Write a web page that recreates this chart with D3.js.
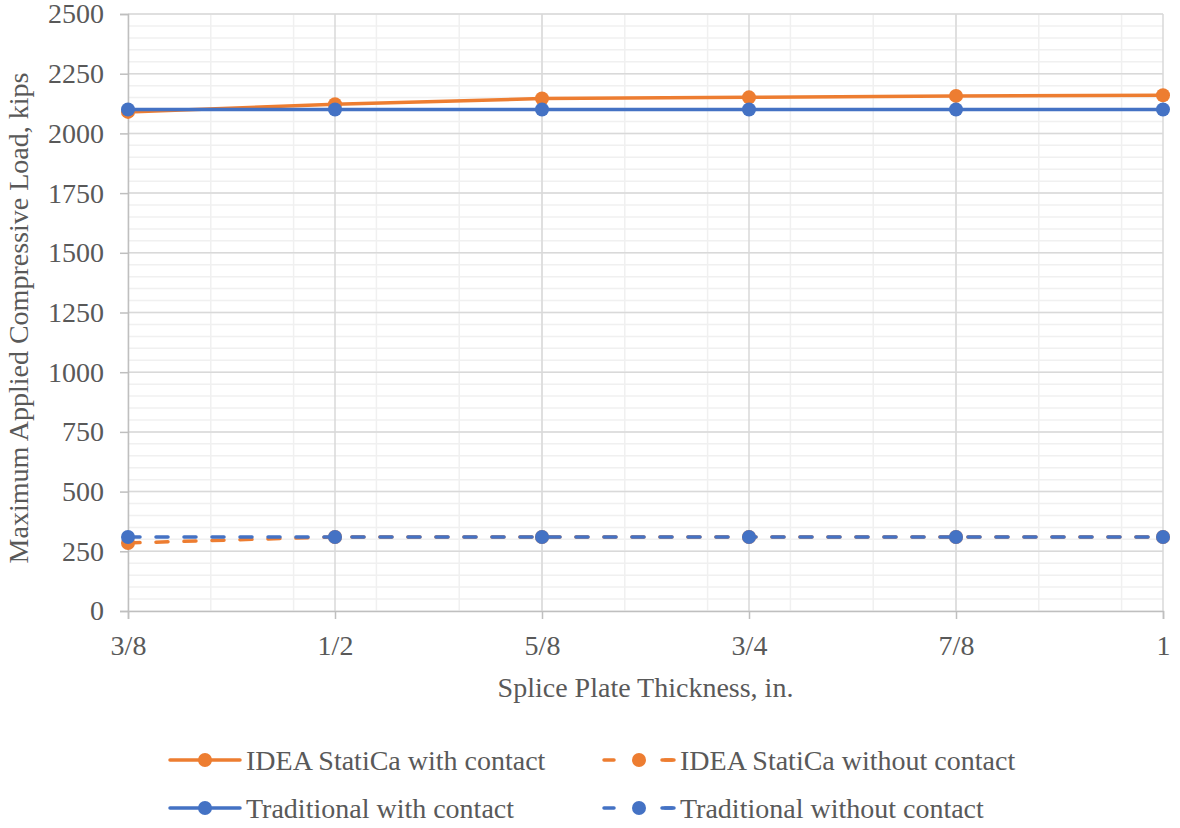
<!DOCTYPE html>
<html>
<head>
<meta charset="utf-8">
<script src="https://cdn.jsdelivr.net/npm/d3@7"></script>
<style>
  body { margin: 0; background: #fff; }
  svg { font-family: "Liberation Serif", "DejaVu Serif", serif; }
</style>
</head>
<body>
<svg width="1180" height="828"></svg>
<script>
const width = 1180;
const height = 828;
const margin = { top: 14, right: 17, bottom: 217, left: 128 };

// chart data
const thickness = [0.375, 0.5, 0.625, 0.75, 0.875, 1];
const thicknessLabels = ["3/8", "1/2", "5/8", "3/4", "7/8", "1"];
const ideaWithContact = [2090, 2122, 2146, 2151, 2157, 2160];
const ideaWithoutContact = [285, 310, 310, 310, 310, 310];
const tradWithContact = [2100, 2100, 2100, 2100, 2100, 2100];
const tradWithoutContact = [310, 310, 310, 310, 310, 310];
const yTicks = [0, 250, 500, 750, 1000, 1250, 1500, 1750, 2000, 2250, 2500];

const seriesNames = ["IDEA StatiCa with contact", "IDEA StatiCa without contact",
                     "Traditional with contact", "Traditional without contact"];
const seriesValues = [ideaWithContact, ideaWithoutContact, tradWithContact, tradWithoutContact];
const seriesColors = ["#ED7D31", "#ED7D31", "#4472C4", "#4472C4"];
const seriesDashed = [false, true, false, true];

const textColor = "#595959";
const fontSize = "28px";

const svg = d3.select("svg");
const plotW = width - margin.left - margin.right;
const plotH = height - margin.top - margin.bottom;

const g = svg.append("g")
  .attr("transform", "translate(" + margin.left + "," + margin.top + ")");

const xScale = d3.scaleLinear().domain([0.375, 1]).range([0, plotW]);
const yScale = d3.scaleLinear().domain([0, 2500]).range([plotH, 0]);

// minor gridlines
const minorY = d3.range(0, 2501, 50);
const minorX = d3.range(0, 13).map(i => 0.375 + i * 0.05);

g.append("g").selectAll("line")
  .data(minorY)
  .enter().append("line")
  .attr("x1", 0).attr("x2", plotW)
  .attr("y1", d => yScale(d)).attr("y2", d => yScale(d))
  .attr("stroke", "#f0f0f0").attr("stroke-width", 1.5);

g.append("g").selectAll("line")
  .data(minorX)
  .enter().append("line")
  .attr("x1", d => xScale(d)).attr("x2", d => xScale(d))
  .attr("y1", 0).attr("y2", plotH)
  .attr("stroke", "#f0f0f0").attr("stroke-width", 1.5);

// major gridlines
g.append("g").selectAll("line")
  .data(yTicks.slice(1))
  .enter().append("line")
  .attr("x1", 0).attr("x2", plotW)
  .attr("y1", d => yScale(d)).attr("y2", d => yScale(d))
  .attr("stroke", "#d9d9d9").attr("stroke-width", 1.5);

g.append("g").selectAll("line")
  .data(thickness.slice(1))
  .enter().append("line")
  .attr("x1", d => xScale(d)).attr("x2", d => xScale(d))
  .attr("y1", 0).attr("y2", plotH)
  .attr("stroke", "#d9d9d9").attr("stroke-width", 1.5);

// axes
const yAxis = d3.axisLeft(yScale).tickValues(yTicks)
  .tickFormat(d3.format("d")).tickSize(8).tickPadding(16);
const xAxis = d3.axisBottom(xScale).tickValues(thickness)
  .tickFormat((d, i) => thicknessLabels[i]).tickSize(8).tickPadding(16);

const gy = g.append("g").call(yAxis);
const gx = g.append("g").attr("transform", "translate(0," + plotH + ")").call(xAxis);

[gx, gy].forEach(a => {
  a.select(".domain").attr("stroke", "#bfbfbf").attr("stroke-width", 1.5);
  a.selectAll(".tick line").attr("stroke", "#bfbfbf").attr("stroke-width", 1.5);
  a.selectAll(".tick text")
    .attr("fill", textColor)
    .attr("font-size", fontSize)
    .attr("font-family", "Liberation Serif, serif");
});

// axis titles
svg.append("text")
  .attr("x", margin.left + plotW / 2)
  .attr("y", 697)
  .attr("text-anchor", "middle")
  .attr("fill", textColor)
  .attr("font-size", fontSize)
  .text("Splice Plate Thickness, in.");

svg.append("text")
  .attr("transform", "translate(28,318) rotate(-90)")
  .attr("text-anchor", "middle")
  .attr("fill", textColor)
  .attr("font-size", fontSize)
  .text("Maximum Applied Compressive Load, kips");

// series
const line = d3.line()
  .x((d, i) => xScale(thickness[i]))
  .y(d => yScale(d));

seriesValues.forEach((vals, s) => {
  const sg = g.append("g");
  sg.append("path")
    .datum(vals)
    .attr("d", line)
    .attr("fill", "none")
    .attr("stroke", seriesColors[s])
    .attr("stroke-width", 3.5)
    .attr("stroke-linecap", "round")
    .attr("stroke-dasharray", seriesDashed[s] ? "12,16" : null);
  sg.selectAll("circle")
    .data(vals)
    .enter().append("circle")
    .attr("cx", (d, i) => xScale(thickness[i]))
    .attr("cy", d => yScale(d))
    .attr("r", 7)
    .attr("fill", seriesColors[s]);
});

// legend
const legendPos = [[170, 760], [604, 760], [170, 808], [604, 808]];
seriesNames.forEach((name, s) => {
  const [lx, ly] = legendPos[s];
  const lg = svg.append("g").attr("transform", "translate(" + lx + "," + ly + ")");
  lg.append("line")
    .attr("x1", 0).attr("x2", 70)
    .attr("y1", 0).attr("y2", 0)
    .attr("stroke", seriesColors[s])
    .attr("stroke-width", 3.5)
    .attr("stroke-linecap", "round")
    .attr("stroke-dasharray", seriesDashed[s] ? "10,48" : null);
  if (seriesDashed[s]) {
    lg.append("line")
      .attr("x1", 61).attr("x2", 70)
      .attr("y1", 0).attr("y2", 0)
      .attr("stroke", seriesColors[s])
      .attr("stroke-width", 3.5)
      .attr("stroke-linecap", "round");
  }
  lg.append("circle")
    .attr("cx", 35).attr("cy", 0).attr("r", 7)
    .attr("fill", seriesColors[s]);
  lg.append("text")
    .attr("x", 76).attr("y", 0)
    .attr("dy", "0.34em")
    .attr("fill", textColor)
    .attr("font-size", fontSize)
    .text(name);
});
</script>
</body>
</html>
